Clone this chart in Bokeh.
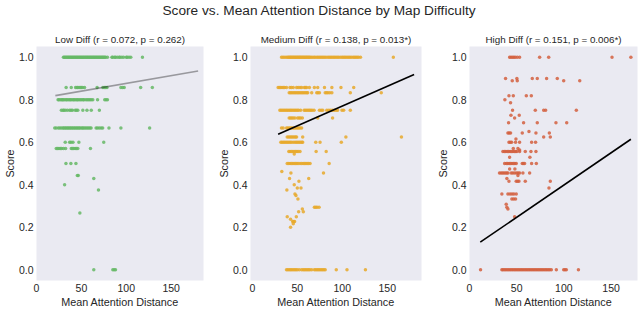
from bokeh.plotting import figure
from bokeh.layouts import row, column
from bokeh.models import Div, Range1d, FixedTicker
from bokeh.embed import file_html
from bokeh.resources import INLINE

# ---------------- data ----------------
main_title = "Score vs. Mean Attention Distance by Map Difficulty"
panel_titles = ["Low Diff (r = 0.072, p = 0.262)",
                "Medium Diff (r = 0.138, p = 0.013*)",
                "High Diff (r = 0.151, p = 0.006*)"]
x_label = "Mean Attention Distance"
y_label = "Score"
x_ticks = [0, 50, 100, 150]
y_ticks = [0.0, 0.2, 0.4, 0.6, 0.8, 1.0]

# rows of (score, [mean attention distances])
low_rows = [
    (1.0, [30, 31, 32, 33, 34, 35, 36, 37, 38, 39, 40, 41, 42, 43, 44, 45, 46, 47, 48, 49, 50,
           51, 52, 53, 54, 55, 56, 57, 58, 59, 60, 61, 62, 63, 64, 65, 66, 67, 68, 69, 70, 71,
           72, 73, 74, 75, 76, 77, 79, 84, 85, 87, 88, 90, 92, 93, 95, 97, 100, 101, 103, 105, 118]),
    (0.857, [33, 38.7, 43.5, 45, 46, 47.5, 49, 50, 51.5, 53.5, 67.5, 74, 75.5, 77, 78.5, 94, 96,
             97.7, 116, 129]),
    (0.8, [24, 25, 26.5, 28, 29, 30, 31.5, 33, 34, 35.5, 37, 38, 39.5, 41, 42, 43.5, 45, 46, 47.5,
           49, 50.5, 52, 53, 55, 56.5, 58, 59.5, 61, 62.7, 68, 76, 77.5, 79]),
    (0.75, [27.7, 29.5, 30.5, 32, 34.3, 36.9, 38.5, 40, 43.1, 44.5, 46, 51.6, 56.2, 61, 70]),
    (0.667, [20.3, 22, 24.4, 26, 27.7, 29.5, 30.5, 32, 33, 34.5, 35.5, 37, 38, 39.5, 40.5, 42, 43,
             44.5, 45.5, 47, 48, 49.5, 51, 52, 53.5, 55, 56.5, 58, 59.5, 60.8, 66.4, 68, 70, 72,
             73.7, 80.7, 94, 126]),
    (0.6, [32, 36.9, 38.5, 40.6, 47.2, 74.9]),
    (0.571, [22, 23.5, 25, 26.5, 28, 30, 32.4, 38.7, 40, 41.5, 43, 44.5, 46, 60.1]),
    (0.5, [32.8, 38.3, 43.9]),
    (0.444, [45.5, 46.5]),
    (0.429, [63.8]),
    (0.4, [31.3]),
    (0.375, [69]),
    (0.267, [48.3]),
    (0.0, [63.8, 85, 86.5, 88]),
]

med_rows = [
    (1.0, [32.4, 34, 35.5, 37.3, 38.8, 40, 41, 42, 43, 44, 45, 46, 47, 48, 49, 50, 51, 52, 53, 54,
           55, 56, 57, 58, 59, 60, 61, 62, 63, 64, 65.3, 66.8, 68.5, 69.8, 71.6, 73, 74.5, 76,
           77.5, 79, 80.5, 82.1, 84, 85.5, 87, 88.5, 90, 91.5, 93, 94.5, 96, 97.8, 99.6, 101,
           102.5, 104, 105.5, 107, 108.5, 110.1, 112, 113.5, 115, 116.5, 118, 120.2, 156.7]),
    (0.857, [28.7, 30, 31.5, 33, 34.5, 36, 38, 41.8, 43.5, 45.5, 49.2, 51, 53, 54.8, 57.8, 59,
             60.4, 63.4, 69, 72.7, 80.2, 88.4, 98.5, 112.7]),
    (0.833, [41, 42.5, 44, 45.5, 47, 48.5, 50, 51.5, 53, 54.5, 56, 57.5, 59, 60.5, 61.6, 66, 71.6,
             73, 74.6, 81, 82.5, 84, 86, 88.4, 108.9, 143.3]),
    (0.75, [30.6, 32, 33.5, 35, 36.5, 38, 39.5, 41, 42.5, 44, 45.5, 47, 48.5, 50, 51.5, 53.7, 57.5,
            59, 60.5, 62, 63.5, 65, 66.5, 68.6, 74.6, 76.5, 78.3, 82.8, 85, 87, 89, 91, 93, 94.8,
            99.6, 101.5, 108.9]),
    (0.714, [41, 42.5, 44, 45.5, 47.4, 50.4, 52, 53.5, 55.6, 72.7, 89.2]),
    (0.667, [32.4, 34.3, 38, 39.5, 41, 42.5, 44, 45.5, 47, 48.5, 50, 51.5, 53, 54.8]),
    (0.625, [38.8, 40.5, 42, 43.5, 45, 46.5, 48, 49.2, 56, 104, 165.7]),
    (0.6, [31.7, 33, 34.5, 36, 37.5, 39, 40.5, 42, 43.5, 45.5, 47.4, 49, 50.5, 52, 53.5, 55, 56,
           70.5, 75.3, 98.9]),
    (0.556, [40.6, 42, 43.5, 45, 46.5, 48, 49.5, 51, 53, 70.9, 82.1]),
    (0.545, [46.6]),
    (0.5, [38.8, 40.5, 42, 43.5, 45, 46.5, 48, 49.5, 51, 53, 54.8, 56.5, 58, 59.5, 61, 62.5, 64.2,
           85.4]),
    (0.462, [32.8]),
    (0.455, [42.9, 79.1]),
    (0.429, [41.4, 62.7]),
    (0.417, [51.8]),
    (0.4, [46.6]),
    (0.385, [50, 54.1]),
    (0.375, [38.4]),
    (0.357, [47.4]),
    (0.35, [48.5]),
    (0.333, [50.7]),
    (0.294, [69, 70.5, 72, 74.2]),
    (0.286, [55.6]),
    (0.273, [51.5, 56.7]),
    (0.25, [38.8, 48.9]),
    (0.238, [42.5]),
    (0.227, [44.8, 46, 47]),
    (0.217, [45.5]),
    (0.2, [42.5]),
    (0.0, [38, 39.5, 41, 42.5, 44, 45.5, 47, 48.5, 50, 52.2, 54.8, 56.5, 58, 59.5, 61, 62.5, 64,
           66, 69, 70.5, 72, 73.5, 75, 76.5, 78, 79.5, 81, 93.3, 105.2, 125.7]),
]

high_rows = [
    (1.0, [42.5, 44, 45.5, 47, 48.5, 50.6, 53.1, 74.3, 83.9, 151, 171]),
    (0.9, [38.2, 50.2, 66.5, 71.8, 81.7, 93]),
    (0.889, [45.3, 50.6, 99.8, 116.8]),
    (0.818, [41.8, 46.4, 60.2, 65.5]),
    (0.8, [37.5]),
    (0.786, [43.5]),
    (0.75, [45.6, 69.7, 78.6, 80.7, 113.2]),
    (0.727, [43.9, 52.7]),
    (0.714, [47.8]),
    (0.692, [41.4, 57.3, 71.8, 91.6, 103]),
    (0.65, [63]),
    (0.643, [40.7, 42, 43.5, 55.9, 70.4, 84.6]),
    (0.625, [78.6, 85.6]),
    (0.615, [49.2]),
    (0.6, [41.8, 43.2, 44.6, 48.8, 53.1, 65.8, 70]),
    (0.571, [46.4, 51.3]),
    (0.563, [53.1]),
    (0.556, [35.4, 37, 38.5, 40, 41.5, 43, 44.5, 46, 47.5, 49, 50.2, 53.1, 59.1, 65.1, 70.4]),
    (0.529, [42.5, 64]),
    (0.5, [37.2, 39, 40.5, 42, 43.5, 45, 46.5, 48, 49.5, 55.9, 57, 58.4, 65.8, 70.8]),
    (0.474, [42.5, 48.1]),
    (0.455, [31.8, 33.5, 35, 36.5, 38, 39.5, 40.7, 44.2, 46, 48, 50, 51.5, 53.1, 56.6, 63.7]),
    (0.444, [51.3]),
    (0.429, [39.6]),
    (0.417, [41.8, 49.5, 51, 52.4, 59.1, 85.6]),
    (0.385, [84.2]),
    (0.357, [34.3, 40.7, 43, 45, 47, 49.5]),
    (0.333, [44.9, 46.8, 48.8]),
    (0.308, [38.9]),
    (0.294, [39.6]),
    (0.286, [40.7]),
    (0.25, [47.8]),
    (0.0, [11.7, 34.3, 35.5, 37, 38.5, 40, 41.5, 43, 44.5, 46, 47.5, 49, 50.5, 52, 53.5, 55, 56.5,
           58, 59.5, 61, 62.5, 64, 65.5, 67, 68.5, 70, 71.5, 73, 74.5, 76, 77.5, 79, 80.5, 82,
           83.5, 85, 86.7, 92, 99.8, 101.2, 102.6, 115.4]),
]

# regression line endpoints
low_fit_x, low_fit_y = [21, 180], [0.819, 0.935]
med_fit_x, med_fit_y = [28.7, 179.8], [0.637, 0.918]
high_fit_x, high_fit_y = [11.4, 171], [0.13, 0.614]

x_ranges = [(0, 186), (-2, 188), (0, 178)]
y_range = (-0.05, 1.05)

# ---------------- style ----------------
FONT = "Liberation Sans"
TEXT = "#262626"
BG = "#EAEAF2"
colors = ["#66B866", "#E8A92C", "#D4603F"]
line_colors = ["#000000", "#000000", "#000000"]
line_alphas = [0.35, 1.0, 1.0]
fig_w = [213, 219, 206]
fig_h = 289
borders_left = [35, 37, 37]
borders_right = [10, 11, 1]


def flatten(rows):
    xs, ys = [], []
    for score, dists in rows:
        for d in dists:
            xs.append(d)
            ys.append(score)
    return xs, ys


def make_panel(i, rows, fit_x, fit_y):
    p = figure(width=fig_w[i], height=fig_h,
               x_range=Range1d(*x_ranges[i]), y_range=Range1d(*y_range),
               output_backend="svg", toolbar_location=None,
               min_border_left=borders_left[i], min_border_right=borders_right[i],
               min_border_top=25, min_border_bottom=29, margin=0)
    p.background_fill_color = BG
    p.border_fill_color = "white"
    p.outline_line_color = None
    p.grid.visible = False

    p.title.text = panel_titles[i]
    p.title.align = "center"
    p.title.text_font = FONT
    p.title.text_font_size = "9.8px"
    p.title.text_font_style = "normal"
    p.title.text_color = TEXT
    p.title.standoff = 3

    for ax in (p.xaxis[0], p.yaxis[0]):
        ax.axis_line_color = None
        ax.major_tick_line_color = None
        ax.minor_tick_line_color = None
        ax.major_tick_out = 0
        ax.major_tick_in = 0
        ax.minor_tick_out = 0
        ax.minor_tick_in = 0
        ax.major_label_text_font = FONT
        ax.major_label_text_font_size = "10.5px"
        ax.major_label_text_color = TEXT
        ax.axis_label_text_font = FONT
        ax.axis_label_text_font_size = "10.8px"
        ax.axis_label_text_font_style = "normal"
        ax.axis_label_text_color = TEXT
        ax.major_label_standoff = 3
    p.xaxis.ticker = FixedTicker(ticks=x_ticks)
    p.yaxis.ticker = FixedTicker(ticks=y_ticks)
    p.xaxis.axis_label = x_label
    p.yaxis.axis_label = y_label
    p.xaxis.axis_label_standoff = 1
    p.yaxis.axis_label_standoff = 0
    p.yaxis.major_label_overrides = {t: f"{t:.1f}" for t in y_ticks}

    xs, ys = flatten(rows)
    p.scatter(xs, ys, size=3.5, fill_color=colors[i], fill_alpha=0.85, line_color=None)
    p.line(fit_x, fit_y, line_color=line_colors[i], line_alpha=line_alphas[i], line_width=1.6)
    return p


p1 = make_panel(0, low_rows, low_fit_x, low_fit_y)
p2 = make_panel(1, med_rows, med_fit_x, med_fit_y)
p3 = make_panel(2, high_rows, high_fit_x, high_fit_y)

title_div = Div(
    text=(f'<div style="width:638px;text-align:center;font-family:\'{FONT}\';'
          f'font-size:13.7px;line-height:21px;color:{TEXT};">{main_title}</div>'),
    width=638, height=21, margin=0)

layout = column(title_div, row(p1, p2, p3, spacing=0), spacing=0)

open("out.html", "w").write(file_html(layout, INLINE))
